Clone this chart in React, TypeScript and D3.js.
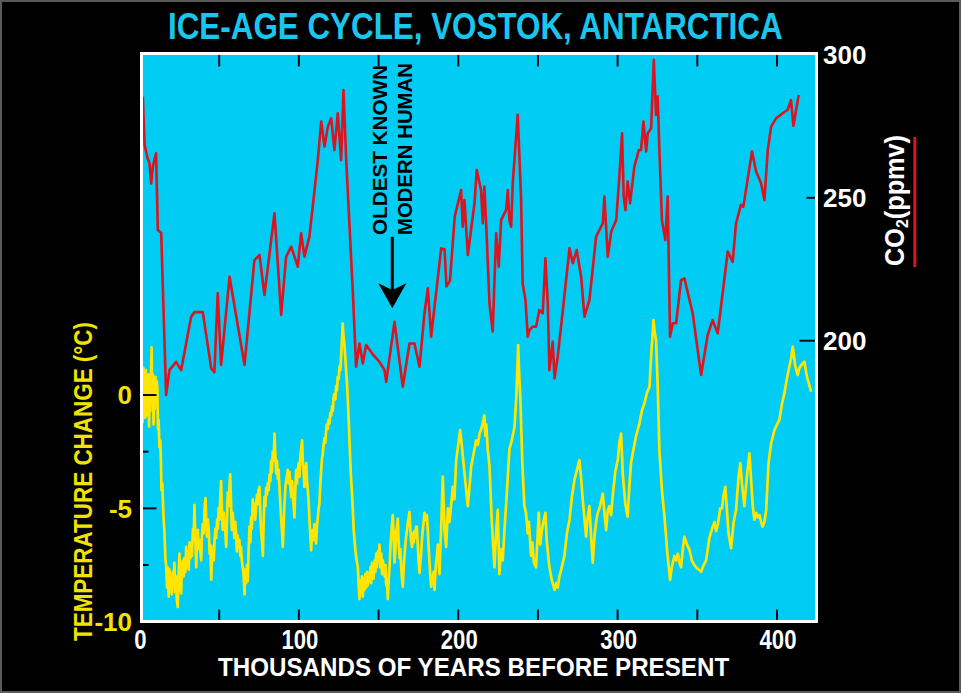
import React from 'react';
import * as d3 from 'd3';

// CO2 (ppmv) vs thousands of years before present
const CO2: [number, number][] = [
  [2.1, 285.4], [3.2, 268.5], [5.0, 264], [6.3, 262], [7.3, 255], [8.4, 261], [10.4, 265.6], [11.5, 238.7],
  [13.6, 237.7], [16.7, 181], [18.8, 189.7], [23, 192.6], [26.1, 189.7], [32.4, 208.4], [34.5, 210], [39.7, 210],
  [45, 190.3], [47, 189], [49.1, 216.6], [51.2, 191.5], [56.5, 222.4], [65.9, 191.5], [72.1, 228.2], [75.3, 230],
  [78.4, 216], [84.7, 244.6], [88.9, 209], [92, 229.4], [95.2, 232.9], [99.3, 225.9], [101.4, 237.6], [103.5, 229.4],
  [106.6, 236.4], [108.7, 246.9], [111.9, 263.2], [114, 276.7], [116.1, 267.9], [118.2, 274.9], [120.3, 277.8],
  [122.3, 266.7], [124.4, 279.6], [126.5, 263.2], [128, 287.7], [129.7, 263.2], [133.8, 217.7], [135.9, 190.9],
  [138, 199], [140.1, 192], [142.2, 198.5], [146, 195.5], [150.6, 192.6], [153.7, 189.7], [154.8, 185.6], [160, 206.6],
  [165.2, 183.9], [169.4, 199], [172.5, 199], [175.7, 190.9], [178.8, 209.6], [180.9, 218.3], [183, 201.4],
  [185.1, 211.9], [189.3, 232.3], [191.4, 232], [192.6, 219], [194.8, 221], [197.8, 243.4], [201.8, 252.7],
  [202.8, 239.9], [203.9, 249.2], [206, 230], [210.2, 248.1], [211.6, 259.7], [214.3, 252.7], [215.4, 241.1],
  [216.4, 253.9], [217.5, 241.1], [219.6, 213.1], [221.6, 203.2], [223.8, 237.6], [225.4, 225.9], [226.9, 242.2],
  [230, 245.7], [231.1, 252.7], [232.1, 242.2], [233.2, 239.9], [234.2, 255.1], [237.3, 279], [239.4, 250.4],
  [240.4, 220.1], [242.2, 214.2], [243.6, 201.4], [244.7, 203.7], [246.7, 204.9], [248.8, 204.9], [250.9, 210.7],
  [253, 209.6], [254.7, 228.8], [256.2, 212.5], [257.2, 189.7], [259.3, 199.6], [260.4, 186.8], [262.4, 194.4],
  [264.5, 204.9], [269.8, 232.3], [271.9, 227.1], [274.3, 231.7], [277.1, 222.4], [279.2, 208.4], [282.3, 214.2],
  [286.5, 236.4], [290.7, 241.1], [291.7, 250.4], [293.8, 229.4], [296, 238.2], [299.1, 242.2], [301.1, 257.4],
  [302.8, 272.6], [303.8, 250.4], [304.9, 245.7], [306.3, 255.7], [307.8, 248.1], [310.5, 260.9], [313.3, 266.7],
  [314.7, 266.7], [316.2, 276.7], [317.9, 266.2], [318.9, 272.6], [321, 274.3], [322.7, 298.3], [324.1, 279],
  [325.1, 285.4], [326.2, 266.7], [327.8, 242.2], [329.9, 235.2], [331.4, 250.4], [332.9, 201.4], [334.6, 206.1],
  [336.7, 206.1], [339.8, 221.2], [341.9, 221.8], [347.1, 209.6], [352.4, 188], [356.5, 202], [359.6, 207.2],
  [362.8, 202.6], [369.1, 231.2], [372.2, 227.6], [374.3, 241.1], [377.4, 247.5], [378.9, 246.9], [384.3, 266.2],
  [386.9, 259.2], [390, 255.1], [392.1, 249.2], [394.2, 266.7], [396.3, 274.9], [399.4, 277.8], [403.6, 279.6],
  [406.7, 280.8], [408.8, 284.2], [410.3, 275.2], [413.6, 286],
];

// Temperature change (°C) vs thousands of years before present
const TEMP: [number, number][] = [
  [0.0, 0.0], [0.4, -0.8], [0.8, 0.9], [1.2, -1.9], [1.6, 0.5], [2.0, -1.2], [2.4, 1.2], [2.8, -0.6], [3.2, 0.9],
  [3.6, -1.0], [4.0, 1.1], [4.4, -0.5], [4.8, 0.6], [5.2, -0.9], [5.6, 0.9], [6.0, -1.4], [6.4, 0.3], [6.8, -0.7],
  [7.2, 0.8], [7.6, 2.1], [8.0, -0.3], [8.4, 0.9], [8.8, -1.3], [9.2, 0.5], [9.6, -0.6], [10.0, 0.8], [10.4, -0.3],
  [10.8, 0.6], [11.2, 0.3], [11.6, -1.5], [12.0, -1.1], [12.5, -2.3], [13.0, -2.0], [13.4, -2.8], [13.8, -4.2],
  [14.3, -3.9], [15.0, -5.3], [15.7, -6.1], [16.2, -7.2], [16.7, -7.5], [17.3, -8.5], [17.8, -7.6], [18.3, -8.9],
  [18.8, -7.7], [19.3, -8.6], [19.8, -7.9], [20.3, -8.8], [20.9, -7.8], [21.4, -8.4], [21.9, -7.4], [22.4, -8.7],
  [22.9, -8.0], [23.4, -9.0], [24.0, -9.35], [24.5, -8.0], [25.1, -7.0], [25.6, -8.4], [26.1, -8.75], [26.6, -7.6],
  [27.2, -7.3], [27.7, -8.0], [28.2, -7.2], [28.8, -7.8], [29.3, -6.7], [29.8, -7.6], [30.4, -6.9], [30.9, -7.7],
  [31.4, -6.5], [31.9, -7.2], [32.4, -6.6], [32.9, -7.1], [33.5, -5.9], [34.0, -6.4], [34.5, -4.85], [35.1, -6.5],
  [35.6, -7.6], [36.1, -6.2], [36.6, -5.95], [37.1, -6.8], [37.7, -6.4], [38.2, -6.9], [38.7, -7.3], [39.2, -6.2],
  [39.7, -5.7], [40.3, -6.1], [40.8, -5.0], [41.4, -4.55], [41.9, -5.6], [42.4, -6.25], [42.9, -5.5], [43.5, -6.0],
  [44.0, -7.0], [44.5, -6.6], [45.0, -8.15], [45.5, -7.1], [46.0, -6.7], [46.6, -7.3], [47.1, -6.4], [47.6, -5.9],
  [48.1, -6.3], [48.7, -5.5], [49.2, -5.9], [49.7, -5.0], [50.2, -5.5], [50.7, -4.5], [51.2, -3.8], [51.7, -5.0],
  [52.2, -5.95], [52.8, -5.2], [53.3, -5.8], [53.8, -6.0], [54.4, -6.7], [54.9, -5.4], [55.4, -4.3], [55.9, -4.9],
  [56.4, -4.1], [56.9, -3.5], [57.4, -4.6], [57.9, -5.95], [58.5, -5.2], [59.0, -5.7], [59.5, -6.3], [60.1, -5.6],
  [60.6, -6.1], [61.1, -6.9], [61.6, -6.2], [62.1, -6.6], [62.7, -6.4], [63.2, -7.1], [63.7, -6.7], [64.2, -7.3],
  [64.8, -7.6], [65.3, -7.9], [65.9, -8.8], [66.4, -7.7], [66.9, -8.3], [67.4, -7.5], [67.9, -8.2], [68.4, -7.0],
  [69.0, -5.8], [69.5, -6.5], [70.0, -5.4], [70.5, -5.9], [71.1, -4.6], [71.6, -5.1], [72.1, -4.8], [72.6, -5.5],
  [73.1, -5.0], [73.7, -4.4], [74.2, -4.8], [74.7, -4.2], [75.3, -4.05], [75.8, -5.2], [76.3, -6.0], [76.9, -6.5],
  [77.4, -7.1], [77.9, -5.6], [78.4, -4.5], [79.0, -4.9], [79.5, -4.1], [80.0, -4.4], [80.5, -3.9], [81.0, -4.2],
  [81.6, -3.5], [82.1, -3.8], [82.6, -2.9], [83.1, -3.4], [83.6, -2.5], [84.2, -2.9], [84.7, -1.7], [85.2, -2.6],
  [85.8, -3.45], [86.3, -2.9], [86.8, -3.7], [87.3, -3.3], [87.8, -4.05], [88.4, -4.8], [88.9, -5.5], [89.4, -6.0],
  [89.9, -6.7], [90.5, -5.6], [91.0, -4.8], [91.5, -4.1], [92.0, -3.75], [92.5, -3.6], [93.0, -3.3], [93.6, -3.9],
  [94.1, -3.4], [94.6, -4.0], [95.2, -4.5], [95.7, -3.8], [96.2, -4.4], [96.7, -4.9], [97.2, -5.4], [97.7, -4.3],
  [98.3, -3.3], [98.8, -3.9], [99.3, -3.45], [99.8, -3.0], [100.3, -3.6], [100.9, -2.7], [101.4, -2.4], [102.0, -2.0],
  [102.5, -3.0], [103.0, -3.4], [103.5, -4.05], [104.1, -3.3], [104.6, -3.0], [105.1, -3.8], [105.6, -4.2],
  [106.2, -4.8], [106.7, -5.6], [107.2, -6.2], [107.7, -6.85], [108.2, -6.1], [108.8, -5.95], [109.3, -6.4],
  [109.8, -5.7], [110.3, -6.2], [110.8, -6.55], [111.3, -5.8], [111.9, -5.4], [112.4, -5.0], [112.9, -4.8],
  [113.4, -4.0], [114.0, -3.3], [114.5, -2.8], [115.0, -2.6], [115.5, -2.2], [116.1, -1.9], [116.6, -2.1],
  [117.1, -1.55], [117.6, -1.3], [118.2, -1.5], [118.7, -1.1], [119.2, -1.25], [119.7, -0.8], [120.3, -0.9],
  [120.8, -0.5], [121.3, -0.7], [121.8, -0.1], [122.3, 0.05], [122.9, -0.2], [123.4, 0.4], [123.9, 0.2], [124.4, 0.8],
  [125.0, 0.7], [125.5, 1.25], [126.0, 1.1], [126.5, 1.7], [127.0, 2.4], [127.5, 3.15], [128.0, 2.6], [128.6, 2.2],
  [129.2, 1.55], [129.7, 1.0], [130.2, 0.5], [130.7, -0.2], [131.3, -1.2], [131.8, -2.1], [132.3, -3.0],
  [132.8, -3.75], [133.3, -4.3], [133.8, -5.0], [134.4, -5.95], [134.9, -6.4], [135.4, -6.8], [135.9, -7.1],
  [136.5, -7.4], [137.0, -7.6], [137.5, -8.3], [138.0, -9.0], [138.6, -8.2], [139.1, -8.7], [139.6, -8.0],
  [140.1, -8.9], [140.6, -8.1], [141.2, -8.6], [141.7, -7.9], [142.2, -8.5], [142.8, -7.8], [143.3, -8.4],
  [143.8, -7.9], [144.3, -8.2], [144.9, -7.6], [145.4, -8.3], [145.9, -7.4], [146.4, -7.7], [146.9, -8.1],
  [147.5, -7.3], [148.0, -7.8], [148.5, -7.0], [149.0, -7.6], [149.6, -6.9], [150.1, -7.3], [150.6, -6.6],
  [151.1, -7.6], [151.7, -7.0], [152.2, -7.9], [152.7, -7.3], [153.2, -7.6], [153.8, -8.0], [154.3, -7.5],
  [154.8, -8.4], [155.3, -8.2], [155.8, -9.0], [156.4, -8.1], [156.9, -7.6], [157.4, -6.8], [157.9, -6.2],
  [158.4, -5.7], [158.9, -5.3], [159.5, -6.3], [160.0, -7.4], [160.5, -6.9], [161.1, -6.0], [161.6, -5.8],
  [162.1, -5.45], [162.6, -6.5], [163.2, -7.2], [163.7, -6.8], [164.2, -7.6], [164.7, -8.1], [165.2, -8.45],
  [165.8, -7.6], [166.3, -7.1], [166.8, -6.6], [167.3, -6.25], [167.8, -6.0], [168.4, -5.6], [168.9, -5.4],
  [169.4, -5.15], [169.9, -5.9], [170.4, -6.4], [171.0, -6.7], [171.5, -6.1], [172.0, -6.5], [172.5, -6.0],
  [173.0, -6.3], [173.5, -5.8], [174.0, -5.8], [174.6, -6.6], [175.1, -7.3], [175.7, -7.85], [176.2, -7.4],
  [176.7, -7.0], [177.2, -6.4], [177.7, -6.0], [178.3, -5.6], [178.8, -5.2], [179.3, -5.5], [179.8, -5.3],
  [180.3, -5.3], [180.9, -6.0], [181.4, -6.7], [181.9, -7.3], [182.4, -7.9], [183.0, -8.45], [183.5, -8.0],
  [184.0, -8.3], [184.5, -7.8], [185.1, -8.6], [185.6, -7.9], [186.1, -7.4], [186.6, -7.1], [187.2, -6.6],
  [187.7, -7.2], [188.2, -7.9], [189.3, -5.8], [190.3, -3.6], [191.4, -6.0], [192.4, -6.7], [193.5, -5.0],
  [194.5, -5.6], [196.6, -4.05], [197.6, -4.6], [198.7, -2.87], [199.8, -2.3], [201.2, -1.55], [202.2, -2.2],
  [203.9, -3.45], [206.0, -4.9], [207.0, -4.1], [208.1, -3.16], [209.6, -2.6], [211.2, -2.0], [212.3, -2.2],
  [213.4, -1.7], [214.9, -1.4], [216.4, -0.9], [217.0, -1.8], [217.6, -1.3], [218.5, -2.4], [219.6, -3.16],
  [221.0, -5.5], [222.7, -7.6], [223.8, -6.0], [224.8, -5.07], [225.8, -7.9], [226.9, -6.8], [227.9, -7.3],
  [229.0, -5.95], [230.5, -4.3], [232.1, -2.4], [233.6, -2.0], [235.3, -1.4], [236.5, 0.0], [237.6, 2.2],
  [238.3, 0.8], [239.0, -0.2], [240.2, -3.0], [241.5, -4.9], [242.5, -5.2], [243.6, -6.1], [244.3, -5.6],
  [245.7, -7.1], [246.5, -6.5], [247.5, -7.4], [248.8, -7.6], [249.6, -6.5], [250.5, -5.2], [251.4, -6.6],
  [252.4, -6.0], [253.4, -5.6], [254.7, -5.2], [255.5, -6.4], [257.0, -7.5], [258.5, -8.1], [260.4, -8.6],
  [261.5, -8.3], [262.4, -8.5], [263.5, -8.0], [264.6, -7.7], [266.6, -7.1], [268.2, -6.1], [269.8, -5.5],
  [271.3, -4.5], [272.9, -3.75], [274.5, -3.3], [276.0, -2.87], [277.0, -3.6], [278.1, -4.6], [280.2, -6.25],
  [281.2, -5.4], [282.3, -4.9], [283.4, -6.3], [284.4, -7.4], [285.5, -6.2], [286.5, -5.6], [287.5, -5.2],
  [288.6, -5.0], [289.6, -4.7], [290.7, -4.35], [291.7, -5.2], [292.8, -5.95], [293.8, -5.1], [294.9, -4.9],
  [295.9, -5.3], [297.0, -4.4], [298.5, -3.4], [300.1, -2.87], [301.1, -2.1], [302.2, -1.7], [303.2, -3.45],
  [304.8, -4.8], [306.3, -5.37], [307.4, -4.0], [308.4, -3.0], [309.5, -2.57], [311.6, -1.8], [313.7, -1.25],
  [315.2, -0.7], [316.8, -0.37], [318.4, 0.1], [320.0, 0.37], [321.0, 1.7], [322.5, 3.3], [323.4, 2.7],
  [324.1, 2.43], [325.1, 0.5], [326.2, -2.43], [327.8, -4.2], [329.4, -5.37], [331.1, -6.9], [332.9, -8.16],
  [334.0, -7.6], [335.6, -7.1], [336.7, -7.3], [337.8, -7.0], [338.8, -7.4], [339.8, -7.6], [340.9, -6.8],
  [341.9, -6.25], [343.5, -6.6], [345.1, -6.84], [346.6, -7.3], [348.1, -7.5], [349.2, -7.6], [350.8, -7.7],
  [352.4, -7.8], [354.0, -7.5], [355.5, -7.3], [357.6, -6.3], [359.7, -5.8], [360.8, -5.6], [361.8, -6.0],
  [362.9, -5.7], [364.4, -5.0], [365.5, -5.0], [366.5, -4.4], [367.6, -4.05], [368.6, -5.1], [369.6, -6.1],
  [371.2, -6.76], [372.8, -5.6], [374.3, -5.07], [375.9, -3.6], [377.0, -3.0], [378.0, -3.9], [379.5, -4.9],
  [381.1, -3.6], [382.7, -2.57], [383.7, -3.7], [384.8, -4.9], [385.8, -5.5], [386.9, -5.2], [388.0, -5.4],
  [389.0, -5.3], [390.0, -5.6], [391.0, -5.8], [392.1, -5.6], [393.2, -5.07], [394.7, -3.0], [396.3, -2.13],
  [398.4, -1.55], [400.0, -1.3], [401.5, -1.1], [403.1, -0.4], [404.6, 0.07], [406.7, 0.9], [408.8, 1.6],
  [409.9, 2.13], [411.4, 1.3], [413.0, 0.88], [414.1, 1.2], [415.6, 1.35], [417.2, 1.47], [418.8, 0.8],
  [420.4, 0.4], [421.4, 0.15],
];

const X_TICKS = [0, 100, 200, 300, 400];
const X_ALL_TICKS = [50, 100, 150, 200, 250, 300, 350, 400];
const T_TICKS = [0, -5, -10];
const T_MAJOR = [0, -5];
const T_MINOR = [-2.5, -7.5];
const CO2_TICKS = [300, 250, 200];

const FONT = '"Liberation Sans", Arial, Helvetica, sans-serif';

export default function App() {
  const W = 961;
  const H = 693;
  const P = { left: 141.5, right: 816.5, top: 53.5, bottom: 621.5 };

  const x = d3.scaleLinear().domain([0, 400]).range([139.5, 777]);
  const yT = d3.scaleLinear().domain([-10, 0]).range([621.7, 395]);
  const yC = d3.scaleLinear().domain([200, 300]).range([340.7, 54.9]);

  const tempLine = d3
    .line<[number, number]>()
    .x((d) => x(d[0]))
    .y((d) => yT(d[1]));
  const co2Line = d3
    .line<[number, number]>()
    .x((d) => x(d[0]))
    .y((d) => yC(d[1]));

  const rightTickLen: Record<number, number> = { 300: 0, 250: 10, 200: 17 };

  return (
    <svg
      width={W}
      height={H}
      viewBox={`0 0 ${W} ${H}`}
      style={{ position: 'absolute', left: 0, top: 0, display: 'block' }}
      fontFamily={FONT}
    >
      <defs>
        <clipPath id="plotClip">
          <rect x={P.left} y={P.top} width={P.right - P.left} height={P.bottom - P.top} />
        </clipPath>
      </defs>
      <rect x={0} y={0} width={W} height={H} fill="#000" />
      <rect x={1} y={1} width={W - 2} height={H - 2} fill="none" stroke="#5a5a5a" strokeWidth={2} />

      {/* plot background */}
      <rect x={P.left} y={P.top} width={P.right - P.left} height={P.bottom - P.top} fill="#00CCF4" />

      <g clipPath="url(#plotClip)">
        <path d={tempLine(TEMP) || ''} fill="none" stroke="#FFE500" strokeWidth={2.7} strokeLinejoin="round" />
        <path d={co2Line(CO2) || ''} fill="none" stroke="#DC1420" strokeWidth={2.6} strokeLinejoin="round" />
      </g>

      {/* ticks */}
      <g stroke="#0a0a1e" strokeWidth={2}>
        {X_ALL_TICKS.map((t) => (
          <g key={'xt' + t}>
            <line x1={x(t)} x2={x(t)} y1={P.top} y2={P.top + 13} />
            <line x1={x(t)} x2={x(t)} y1={P.bottom} y2={P.bottom - 12} />
          </g>
        ))}
        {T_MAJOR.map((v) => (
          <line key={'tm' + v} x1={P.left - 4} x2={P.left + 15} y1={yT(v)} y2={yT(v)} />
        ))}
        {T_MINOR.map((v) => (
          <line key={'tn' + v} x1={P.left - 4} x2={P.left + 7} y1={yT(v)} y2={yT(v)} />
        ))}
        {CO2_TICKS.filter((v) => rightTickLen[v] > 0).map((v) => (
          <line key={'ct' + v} x1={P.right + 3} x2={P.right - rightTickLen[v]} y1={yC(v)} y2={yC(v)} />
        ))}
      </g>

      {/* white frame */}
      <rect
        x={P.left}
        y={P.top}
        width={P.right - P.left}
        height={P.bottom - P.top}
        fill="none"
        stroke="#fff"
        strokeWidth={3}
      />

      {/* title */}
      <text transform="translate(168,39) scale(0.848,1)" fontSize={37} fontWeight="bold" fill="#1AC6EE">
        ICE-AGE CYCLE, VOSTOK, ANTARCTICA
      </text>

      {/* x tick labels */}
      {X_TICKS.map((t) => (
        <text
          key={'xl' + t}
          transform={`translate(${x(t) + 1},649) scale(0.82,1)`}
          fontSize={27}
          fontWeight="bold"
          fill="#fff"
          textAnchor="middle"
        >
          {t}
        </text>
      ))}
      <text transform="translate(218,676) scale(0.93,1)" fontSize={26} fontWeight="bold" fill="#fff">
        THOUSANDS OF YEARS BEFORE PRESENT
      </text>

      {/* left axis labels */}
      {T_TICKS.map((v) => (
        <text
          key={'tl' + v}
          x={132}
          y={yT(v)}
          dy="0.36em"
          fontSize={26}
          fontWeight="bold"
          fill="#F2E200"
          textAnchor="end"
        >
          {v}
        </text>
      ))}
      <text
        transform="translate(92,481.5) rotate(-90)"
        fontSize={25}
        fontWeight="bold"
        fill="#F2E200"
        textAnchor="middle"
        textLength={319}
        lengthAdjust="spacingAndGlyphs"
      >
        TEMPERATURE CHANGE (°C)
      </text>

      {/* right axis labels */}
      {CO2_TICKS.map((v) => (
        <text key={'cl' + v} x={823} y={yC(v)} dy="0.36em" fontSize={26} fontWeight="bold" fill="#fff">
          {v}
        </text>
      ))}
      <text
        transform="translate(904,200.5) rotate(-90)"
        fontSize={27}
        fontWeight="bold"
        fill="#fff"
        textAnchor="middle"
        textLength={131}
        lengthAdjust="spacingAndGlyphs"
      >
        CO<tspan fontSize={17} dy={4}>2</tspan>
        <tspan dy={-4}>(ppmv)</tspan>
      </text>
      <line x1={914.8} x2={914.8} y1={137} y2={267} stroke="#DC1420" strokeWidth={3} />

      {/* annotation */}
      <text
        transform="translate(387,235) rotate(-90)"
        fontSize={21}
        fontWeight="bold"
        fill="#000"
        textLength={170}
        lengthAdjust="spacingAndGlyphs"
      >
        OLDEST KNOWN
      </text>
      <text
        transform="translate(412,235) rotate(-90)"
        fontSize={21}
        fontWeight="bold"
        fill="#000"
        textLength={172}
        lengthAdjust="spacingAndGlyphs"
      >
        MODERN HUMAN
      </text>
      <line x1={392.3} x2={392.3} y1={236.7} y2={292} stroke="#000" strokeWidth={3} />
      <path d="M378.3,283.3 L392.3,308.3 L406.3,283.3 L392.3,290 Z" fill="#000" />
    </svg>
  );
}
